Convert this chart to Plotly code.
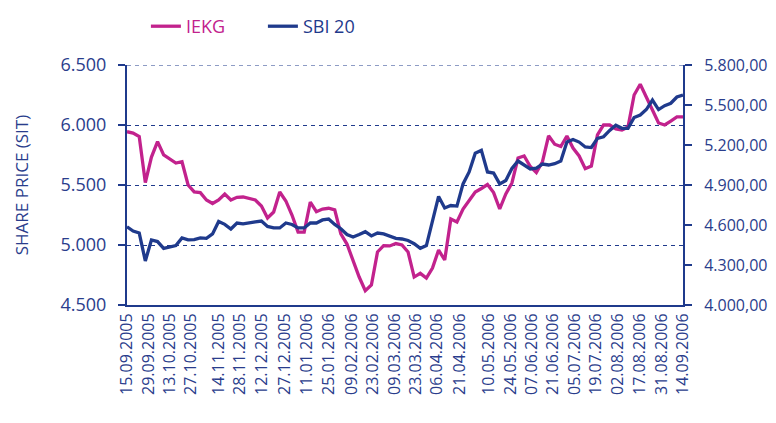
import pandas as pd
import plotly.graph_objects as go

# ---- data ----
dates = pd.date_range("2005-09-15", "2006-09-14", freq="4D")

iekg = [5944, 5933, 5904, 5520, 5733, 5861, 5750, 5717, 5683, 5694,
        5500, 5442, 5436, 5375, 5346, 5375, 5425, 5375, 5397, 5400,
        5387, 5375, 5325, 5225, 5275, 5442, 5367, 5250, 5108, 5108,
        5358, 5278, 5300, 5306, 5292, 5092, 5008, 4867, 4733, 4619,
        4667, 4942, 4994, 4992, 5012, 5000, 4942, 4733, 4764, 4725,
        4808, 4958, 4875, 5217, 5192, 5300, 5375, 5442, 5471, 5504,
        5437, 5300, 5425, 5517, 5725, 5742, 5654, 5604, 5694, 5910,
        5840, 5821, 5908, 5808, 5742, 5636, 5658, 5917, 6000, 6000,
        5967, 5958, 5983, 6250, 6340, 6225, 6125, 6017, 6000, 6033,
        6067, 6067]

sbi20 = [4587, 4555, 4540, 4330, 4488, 4476, 4425, 4435, 4446, 4503,
         4488, 4490, 4503, 4500, 4533, 4626, 4605, 4570, 4615, 4608,
         4613, 4623, 4630, 4589, 4578, 4578, 4615, 4604, 4578, 4578,
         4615, 4615, 4638, 4645, 4604, 4572, 4529, 4510, 4529, 4550,
         4518, 4540, 4533, 4518, 4500, 4495, 4484, 4460, 4425, 4446,
         4623, 4814, 4728, 4746, 4742, 4908, 4998, 5138, 5160, 4998,
         4990, 4908, 4934, 5024, 5080, 5050, 5020, 5027, 5057, 5050,
         5060, 5080, 5222, 5241, 5222, 5185, 5181, 5250, 5262, 5309,
         5348, 5325, 5325, 5406, 5425, 5466, 5537, 5466, 5495, 5513,
         5560, 5575]

x_tick_labels = ["15.09.2005", "29.09.2005", "13.10.2005", "27.10.2005",
                 "14.11.2005", "28.11.2005", "12.12.2005", "27.12.2005",
                 "11.01.2006", "25.01.2006", "09.02.2006", "23.02.2006",
                 "09.03.2006", "23.03.2006", "06.04.2006", "21.04.2006",
                 "10.05.2006", "24.05.2006", "07.06.2006", "21.06.2006",
                 "05.07.2006", "19.07.2006", "02.08.2006", "17.08.2006",
                 "31.08.2006", "14.09.2006"]

left_ticks = [4500, 5000, 5500, 6000, 6500]
left_tick_text = ["4.500", "5.000", "5.500", "6.000", "6.500"]
right_ticks = [4000, 4300, 4600, 4900, 5200, 5500, 5800]
right_tick_text = ["4.000,00", "4.300,00", "4.600,00", "4.900,00",
                   "5.200,00", "5.500,00", "5.800,00"]

# ---- styling ----
MAGENTA = "#c2228d"
NAVY = "#1f3a8c"
TEXT = "#2a3d8c"
FONT = "Open Sans"

tick_dates = pd.to_datetime(x_tick_labels, format="%d.%m.%Y")

fig = go.Figure()
fig.add_trace(go.Scatter(
    x=dates, y=iekg, mode="lines", yaxis="y",
    name=f"<span style='color:{MAGENTA}'>IEKG</span>",
    line=dict(color=MAGENTA, width=3.3)))
fig.add_trace(go.Scatter(
    x=dates, y=sbi20, mode="lines", yaxis="y2",
    name=f"<span style='color:{NAVY}'>SBI 20</span>",
    line=dict(color=NAVY, width=3.3)))

# dashed gridline at the top of the left scale (plotly skips the edge one)
fig.add_shape(type="line", xref="paper", x0=0, x1=1, yref="y",
              y0=left_ticks[-1], y1=left_ticks[-1],
              line=dict(color=NAVY, width=1, dash="4px,4px"), layer="below")

# page body has an 8px margin, so the figure is sized 768x415
fig.update_layout(
    width=768, height=415,
    margin=dict(l=119, r=93, t=57, b=118, autoexpand=False),
    paper_bgcolor="white", plot_bgcolor="white",
    font=dict(family=FONT, color=TEXT),
    showlegend=True,
    legend=dict(orientation="h", x=0.034, xanchor="left",
                y=1.2375, yanchor="top",
                font=dict(size=18, family=FONT),
                entrywidth=72, entrywidthmode="pixels",
                tracegroupgap=0,
                bgcolor="rgba(0,0,0,0)"),
    xaxis=dict(
        type="date", automargin=False,
        range=[dates[0], dates[-1]],
        tickvals=tick_dates, ticktext=x_tick_labels,
        tickangle=-90, ticks="", showgrid=False,
        showline=True, linecolor=NAVY, linewidth=2,
        tickfont=dict(size=16, color=TEXT),
        zeroline=False),
    xaxis2=dict(
        overlaying="x", anchor="y", side="bottom", automargin=False,
        range=[0, 17], tickvals=list(range(18)),
        showticklabels=False, ticks="outside", ticklen=7,
        tickwidth=1.5, tickcolor=NAVY,
        showgrid=False, showline=False, zeroline=False),
    yaxis=dict(
        range=[4500, 6500], tickvals=left_ticks, ticktext=left_tick_text,
        automargin=False,
        ticks="outside", ticklen=7, tickwidth=1.5, tickcolor=NAVY,
        ticklabelstandoff=8,
        showline=True, linecolor=NAVY, linewidth=2,
        showgrid=True, gridcolor=NAVY, gridwidth=1, griddash="4px,4px",
        tickfont=dict(size=18, color=TEXT),
        title=dict(text="SHARE PRICE (SIT)", font=dict(size=17, color=TEXT),
                   standoff=28),
        zeroline=False),
    yaxis2=dict(
        overlaying="y", side="right", anchor="x", automargin=False,
        range=[4000, 5800], tickvals=right_ticks, ticktext=right_tick_text,
        ticks="outside", ticklen=7, tickwidth=1.5, tickcolor=NAVY,
        ticklabelstandoff=9,
        showline=True, linecolor=NAVY, linewidth=2,
        showgrid=False, zeroline=False,
        tickfont=dict(size=16, color=TEXT)),
)

fig.write_html("out.html")
